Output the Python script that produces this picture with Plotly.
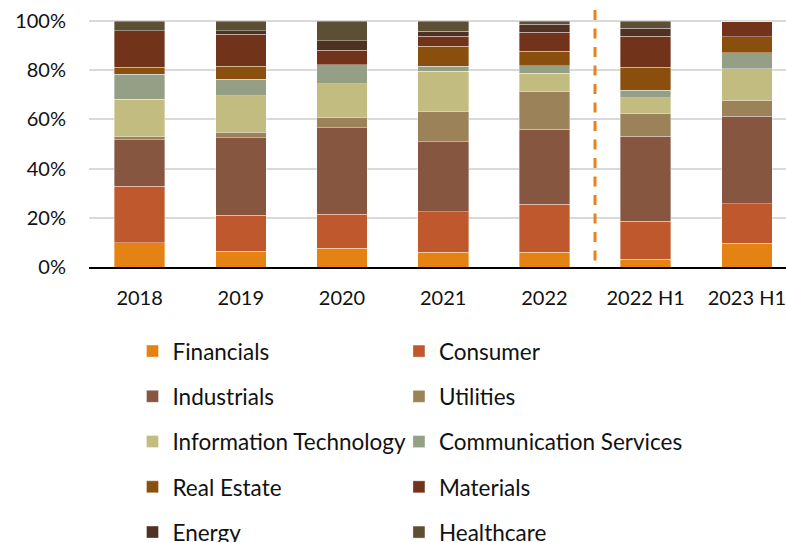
import plotly.graph_objects as go

categories = ["2018", "2019", "2020", "2021", "2022", "2022 H1", "2023 H1"]

sectors = ["Financials", "Consumer", "Industrials", "Utilities", "Information Technology",
           "Communication Services", "Real Estate", "Materials", "Energy", "Healthcare"]

financials  = [9.9, 6.5, 7.7, 6.0, 6.0, 3.1, 9.6]
consumer    = [22.9, 14.5, 13.7, 16.4, 19.6, 15.5, 16.2]
industrials = [19.0, 31.5, 35.3, 28.6, 30.3, 34.5, 35.4]
utilities   = [1.1, 2.3, 3.9, 12.1, 15.3, 9.2, 6.4]
info_tech   = [15.3, 14.9, 13.8, 16.5, 7.6, 6.5, 12.9]
comm_serv   = [10.2, 6.7, 7.9, 2.1, 3.0, 3.1, 6.5]
real_estate = [2.7, 5.3, 0.0, 8.1, 6.0, 9.2, 6.5]
materials   = [15.0, 13.0, 5.8, 4.0, 7.6, 12.7, 6.5]
energy      = [0.0, 1.4, 3.9, 2.0, 3.2, 3.2, 0.0]
healthcare  = [3.9, 3.9, 8.0, 4.2, 1.4, 3.0, 0.0]

y_tick_values = [0, 20, 40, 60, 80, 100]
y_tick_labels = ["0%", "20%", "40%", "60%", "80%", "100%"]

series = [financials, consumer, industrials, utilities, info_tech,
          comm_serv, real_estate, materials, energy, healthcare]

colors = ["#E58214", "#BF582C", "#875641", "#9C8258", "#C2BC81",
          "#949F86", "#8A4F0C", "#71341A", "#4F3224", "#5C4F34"]

FONT = "Lato"

fig = go.Figure()
for i, (name, vals, col) in enumerate(zip(sectors, series, colors)):
    fig.add_trace(go.Bar(
        x=categories, y=vals, name=name,
        marker=dict(color=col, line=dict(color="rgba(255,255,255,0.45)", width=0.8)),
        legend="legend" if i % 2 == 0 else "legend2",
        legendgroup=name,
    ))

fig.add_shape(type="line", xref="x", yref="paper", x0=4.5, x1=4.5, y0=1.0, y1=0.016,
              line=dict(color="#E8821E", width=3, dash="10px,8.5px"))

legend_common = dict(
    orientation="v", yanchor="top", xanchor="left", y=-0.245,
    font=dict(family=FONT, size=22.5, color="#111111"),
    bgcolor="rgba(0,0,0,0)", traceorder="grouped", tracegroupgap=13,
)

fig.update_layout(
    template="none",
    width=786, height=542,
    margin=dict(l=89, r=0, t=10, b=275, autoexpand=False),
    paper_bgcolor="white", plot_bgcolor="white",
    barmode="stack", bargap=0.5,
    font=dict(family=FONT, size=20, color="#111111"),
    legend=dict(x=0.0624, **legend_common),
    legend2=dict(x=0.4447, **legend_common),
    xaxis=dict(
        type="category", automargin=False,
        range=[-0.5, 6.387], showline=True, linecolor="black", linewidth=1.5,
        ticks="outside", ticklen=12, tickcolor="rgba(0,0,0,0)",
        tickfont=dict(family=FONT, size=20, color="#111111"), showgrid=False,
        zeroline=False,
    ),
    yaxis=dict(
        automargin=False,
        range=[0, 104.47], tickmode="array", tickvals=y_tick_values, ticktext=y_tick_labels,
        showgrid=True, gridcolor="#D9D9D9", gridwidth=1.5, zeroline=False, showline=False,
        ticks="outside", ticklen=18, tickcolor="rgba(0,0,0,0)",
        tickfont=dict(family=FONT, size=20, color="#111111"),
    ),
)

fig.write_html(
    "out.html",
    config={"displayModeBar": False},
    post_script="document.body.style.margin='0px';document.body.style.overflow='hidden';",
)
